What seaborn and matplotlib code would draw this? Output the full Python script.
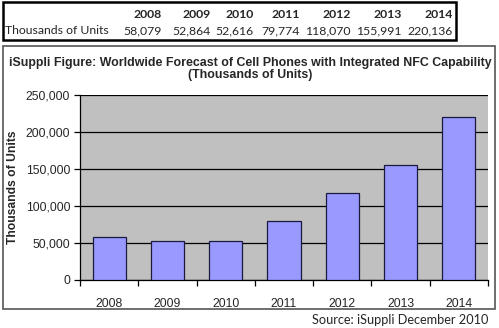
import matplotlib
matplotlib.use("Agg")
import matplotlib.pyplot as plt
import seaborn as sns
import pandas as pd
from matplotlib.patches import Rectangle
from matplotlib.ticker import FuncFormatter, MultipleLocator

years = ["2008", "2009", "2010", "2011", "2012", "2013", "2014"]
units = [58079, 52864, 52616, 79774, 118070, 155991, 220136]
title = "iSuppli Figure: Worldwide Forecast of Cell Phones with Integrated NFC Capability\n(Thousands of Units)"
ylabel = "Thousands of Units"
source = "Source: iSuppli December 2010"
row_label = "Thousands of Units"

sns.set_theme(style="white")
plt.rcParams['font.family'] = ['Liberation Sans', 'DejaVu Sans']

W, H = 499, 328
fig = plt.figure(figsize=(W / 100, H / 100), dpi=100)
fig.patch.set_facecolor("white")

def fx(x): return x / W
def fy(y): return 1 - y / H

CAL = ["Lato", "DejaVu Sans"]

# Top table box
fig.patches.append(Rectangle((fx(3), fy(40)), fx(453), 38 / H, transform=fig.transFigure,
                             fill=False, edgecolor="black", linewidth=1.8))
col_right = [162, 211, 254, 300, 351, 402, 453]
for x, yr, v in zip(col_right, years, units):
    fig.text(fx(x), fy(14), yr, ha="right", va="center", fontsize=8.8, fontweight="bold",
             family=CAL)
    fig.text(fx(x), fy(31), f"{v:,}", ha="right", va="center", fontsize=8.8, family=CAL)
fig.text(fx(5), fy(31), row_label, ha="left", va="center", fontsize=8.8, family=CAL)

# Chart box
fig.patches.append(Rectangle((fx(3), fy(309)), fx(492), 263 / H, transform=fig.transFigure,
                             fill=False, edgecolor="#555555", linewidth=1.2))
fig.text(fx(250), fy(69), title, ha="center", va="center", fontsize=8.9, fontweight="bold",
         linespacing=1.1)

ax = fig.add_axes([fx(80), fy(280), fx(408), 185 / H])
df = pd.DataFrame({"year": years, "units": units})
sns.barplot(data=df, x="year", y="units", ax=ax, color="#9999FF", saturation=1,
            width=0.57, edgecolor="#1a1a40", linewidth=0.9, zorder=3)
ax.set_facecolor("#C0C0C0")
ax.set_ylim(0, 250000)
ax.set_xlim(-0.5, 6.5)
ax.yaxis.set_major_locator(MultipleLocator(50000))
ax.yaxis.set_major_formatter(FuncFormatter(lambda v, p: f"{int(v):,}"))
ax.grid(axis="y", color="black", linewidth=0.9, zorder=0)
ax.set_axisbelow(True)
for s in ["top", "right"]:
    ax.spines[s].set_visible(False)
ax.spines["left"].set_color("black")
ax.spines["bottom"].set_color("black")
ax.spines["left"].set_linewidth(0.9)
ax.spines["bottom"].set_linewidth(0.9)
ax.tick_params(axis="y", left=True, length=4, width=0.9, color="black", labelsize=8.7, pad=3)
ax.set_xticks([i + 0.5 for i in range(-1, 7)], minor=True)
ax.tick_params(axis="x", which="minor", bottom=True, length=4, width=0.9, color="black")
ax.tick_params(axis="x", which="major", bottom=False, labelsize=8.7, pad=7)
ax.set_xlabel("")
ax.set_ylabel(ylabel, fontsize=8.7, fontweight="bold", labelpad=5)

fig.text(fx(488), fy(320), source, ha="right", va="center", fontsize=9.2, family=CAL)

fig.savefig("out.png", dpi=100)
